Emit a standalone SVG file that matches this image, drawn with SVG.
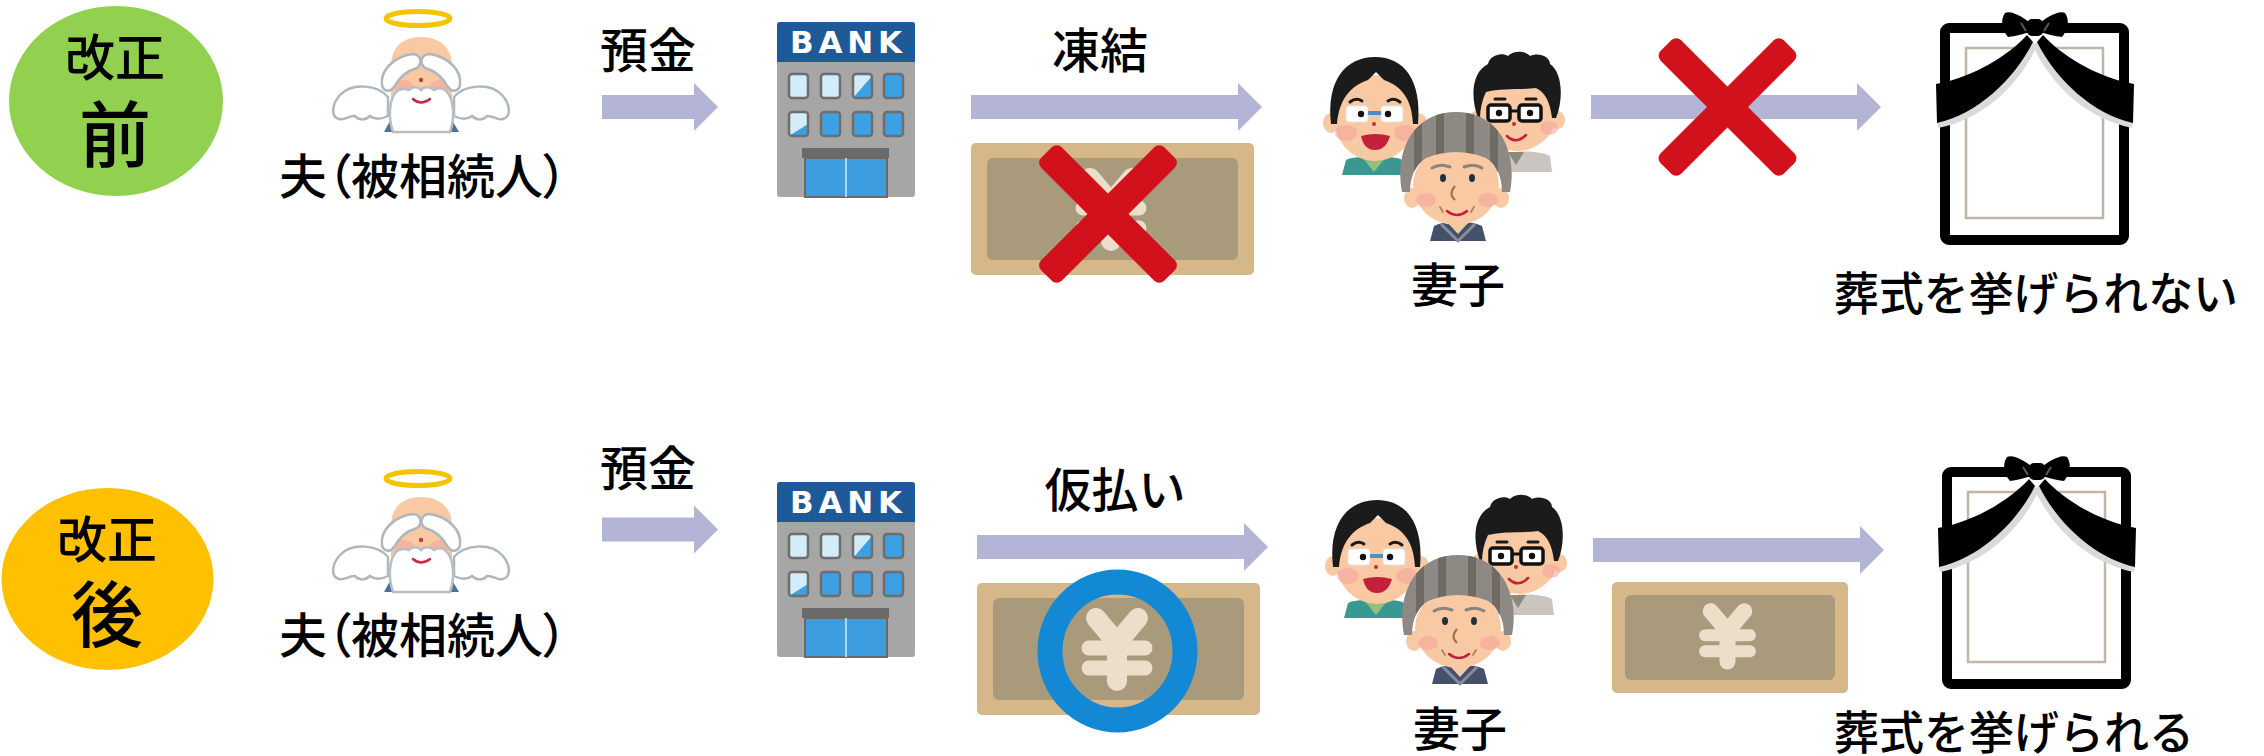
<svg xmlns="http://www.w3.org/2000/svg" width="2264" height="756" viewBox="0 0 2264 756">
<style>
  .t{font-family:"Noto Sans CJK JP","Noto Sans CJK SC",sans-serif;font-weight:500;fill:#000;}
  .lbl{font-size:48px;}
  .cap{font-size:48px;font-feature-settings:"palt";}
  .arrow{fill:#B4B4D6;}
  .skin{fill:#F9C9A3;}
  .blush{fill:#F4A09A;opacity:.55;}
  .hair{fill:#1B1B1B;}
  .cross{fill:#D1121C;}
  .win{fill:none;stroke:#6E6E6E;stroke-width:2.5;}
  .wl{fill:#D3ECFA;}
  .wb{fill:#3DA0E2;}
  .bank{font-family:"DejaVu Sans",sans-serif;font-weight:bold;font-size:31px;fill:#fff;}
</style>
<defs>
  <!-- angel (deceased husband) -->
  <path id="wingL" d="M388 97 C378 85 352 82 340 95 C331 105 331 117 339 119 C345 121 349 115 355 116 C359 121 366 120 370 116 C375 120 382 119 388 116 Z" fill="#fff" stroke="#AEB6BF" stroke-width="2.5"/>
  <path id="browL" d="M382 85 C380 70 394 57 412 54 C421 54 423 63 417 68 C406 71 399 78 394 87 C390 93 383 91 382 85 Z" fill="#fff" stroke="#AEB6BF" stroke-width="2.5"/>
  <g id="angel-art">
    <use href="#wingL"/>
    <use href="#wingL" transform="matrix(-1 0 0 1 842 0)"/>
    <polygon points="384,132 396,110 446,110 459,132" fill="#4D6F9E"/>
    <ellipse cx="389" cy="80" rx="6" ry="8" class="skin"/>
    <ellipse cx="454" cy="80" rx="6" ry="8" class="skin"/>
    <path d="M391 98 L391 66 C391 46 404 37 421 37 C438 37 452 46 452 66 L452 98 Z" class="skin"/>
    <ellipse cx="403" cy="86" rx="10" ry="6" class="blush"/>
    <ellipse cx="440" cy="86" rx="10" ry="6" class="blush"/>
    <path d="M393 132 C388 118 389 100 396 92 C400 87 406 89 409 90 C413 86 419 87 421 90 C424 86 431 87 434 90 C438 87 444 88 447 92 C454 100 455 118 450 132 Z" fill="#fff" stroke="#B8BEC4" stroke-width="2.5"/>
    <use href="#browL"/>
    <use href="#browL" transform="matrix(-1 0 0 1 842 0)"/>
    <circle cx="421" cy="80" r="2.2" fill="#C23A44"/>
    <path d="M413 99 Q421 106 430 99" fill="none" stroke="#C8284A" stroke-width="2.5" stroke-linecap="round"/>
    <ellipse cx="418" cy="18.5" rx="32" ry="7" fill="none" stroke="#F5C400" stroke-width="5"/>
  </g>

  <!-- bank building -->
  <g id="bank-art">
    <rect x="777" y="22" width="138" height="175" rx="3" fill="#A6A6A6"/>
    <path d="M777 62 V25 Q777 22 780 22 H912 Q915 22 915 25 V62 Z" fill="#1E5A98"/>
    <text x="846" y="53" class="bank" text-anchor="middle" textLength="112" lengthAdjust="spacing">BANK</text>
    <rect x="789" y="74" width="19" height="24" class="wl"/>
    <rect x="821" y="74" width="19" height="24" class="wl"/>
    <rect x="853" y="74" width="19" height="24" class="wl"/>
    <polygon points="872,76 872,98 853,98" class="wb"/>
    <rect x="884" y="74" width="19" height="24" class="wb"/>
    <rect x="789" y="112" width="19" height="24" class="wl"/>
    <polygon points="789,136 808,136 808,124" class="wb"/>
    <rect x="821" y="112" width="19" height="24" class="wb"/>
    <rect x="853" y="112" width="19" height="24" class="wb"/>
    <rect x="884" y="112" width="19" height="24" class="wb"/>
    <g class="win">
      <rect x="789" y="74" width="19" height="24" rx="3"/>
      <rect x="821" y="74" width="19" height="24" rx="3"/>
      <rect x="853" y="74" width="19" height="24" rx="3"/>
      <rect x="884" y="74" width="19" height="24" rx="3"/>
      <rect x="789" y="112" width="19" height="24" rx="3"/>
      <rect x="821" y="112" width="19" height="24" rx="3"/>
      <rect x="853" y="112" width="19" height="24" rx="3"/>
      <rect x="884" y="112" width="19" height="24" rx="3"/>
    </g>
    <rect x="805" y="158" width="82" height="39" fill="#3C9EDF" stroke="#6A6A6A" stroke-width="2"/>
    <line x1="846" y1="158" x2="846" y2="197" stroke="#A8D8F6" stroke-width="2"/>
    <rect x="802" y="148" width="87" height="10" fill="#6A6A6A"/>
  </g>

  <!-- yen mark -->
  <g id="yen" fill="none" stroke="#ECDFCA" stroke-linecap="round" stroke-linejoin="round">
    <path d="M-21 -31 L0 -6 L21 -31" stroke-width="20"/>
    <path d="M-28 -1 H28 M-28 19 H28" stroke-width="15"/>
    <path d="M0 -6 V32" stroke-width="20"/>
  </g>

  <!-- banknote -->
  <g id="bill-art">
    <rect x="971" y="143" width="283" height="132" rx="5" fill="#D5B789"/>
    <rect x="987" y="158" width="251" height="102" rx="6" fill="#A99A7B"/>
    <use href="#yen" transform="translate(1111 209)"/>
  </g>

  <!-- cross mark -->
  <g id="xmark" class="cross">
    <rect x="-87" y="-14.5" width="174" height="29" rx="7" transform="rotate(45)"/>
    <rect x="-87" y="-14.5" width="174" height="29" rx="7" transform="rotate(-45)"/>
  </g>

  <!-- family: son, son, widow -->
  <clipPath id="grannyHair">
    <path d="M1402 192 C1394 150 1414 112 1456 112 C1498 112 1518 150 1510 192 L1502 192 C1502 176 1496 164 1486 158 C1468 150 1444 150 1426 158 C1416 164 1410 176 1410 192 Z"/>
  </clipPath>
  <g id="family-art">
    <!-- left son -->
    <path d="M1342 175 L1346 160 C1355 155 1395 155 1402 160 L1404 175 Z" fill="#3A9893"/>
    <polygon points="1362,157 1374,172 1386,157" fill="#93BE7E"/>
    <ellipse cx="1331" cy="123" rx="8" ry="10" class="skin"/>
    <ellipse cx="1419" cy="123" rx="8" ry="10" class="skin"/>
    <ellipse cx="1375" cy="118" rx="41" ry="43" class="skin"/>
    <path d="M1331 124 C1326 80 1346 57 1375 57 C1404 57 1422 80 1418 124 L1413 124 C1412 100 1402 86 1384 80 L1376 72 L1368 80 C1350 86 1339 100 1337 124 Z" class="hair"/>
    <ellipse cx="1346" cy="133" rx="11" ry="8" class="blush"/>
    <ellipse cx="1405" cy="133" rx="11" ry="8" class="blush"/>
    <path d="M1350 102 Q1356 97 1362 101 M1388 101 Q1394 97 1400 102" fill="none" stroke="#1B1B1B" stroke-width="3" stroke-linecap="round"/>
    <rect x="1346" y="106" width="22" height="16" rx="3" fill="#fff" stroke="#E4E4E4"/>
    <rect x="1381" y="106" width="22" height="16" rx="3" fill="#fff" stroke="#E4E4E4"/>
    <rect x="1368" y="111" width="13" height="4" fill="#4A90C0"/>
    <circle cx="1361" cy="114" r="3.2" fill="#111"/>
    <circle cx="1388" cy="114" r="3.2" fill="#111"/>
    <circle cx="1374" cy="124" r="2" fill="#C0303A"/>
    <path d="M1361 136 Q1375 132 1390 136 Q1386 150 1375 150 Q1364 150 1361 136 Z" fill="#C4203C"/>
    <!-- right son -->
    <path d="M1492 172 L1496 156 C1510 150 1540 150 1550 156 L1552 172 Z" fill="#CCC5BF"/>
    <polygon points="1508,152 1516,165 1524,152" fill="#8C8A7C"/>
    <ellipse cx="1476" cy="120" rx="7" ry="9" class="skin"/>
    <ellipse cx="1558" cy="120" rx="7" ry="9" class="skin"/>
    <ellipse cx="1517" cy="112" rx="40" ry="39" class="skin"/>
    <path d="M1478 118 C1470 96 1472 72 1488 64 C1490 55 1502 52 1508 56 C1514 50 1526 51 1530 56 C1538 52 1550 56 1550 64 C1562 72 1564 98 1556 118 L1552 118 C1550 100 1544 92 1536 88 C1520 90 1500 88 1486 92 C1482 100 1480 110 1480 118 Z" class="hair"/>
    <ellipse cx="1487" cy="130" rx="9" ry="7" class="blush"/>
    <ellipse cx="1549" cy="128" rx="9" ry="7" class="blush"/>
    <path d="M1495 99 H1505 M1526 99 H1536" stroke="#1B1B1B" stroke-width="3" stroke-linecap="round"/>
    <rect x="1488" y="105" width="22" height="16" rx="3" fill="#fff" stroke="#111" stroke-width="3.5"/>
    <rect x="1519" y="105" width="22" height="16" rx="3" fill="#fff" stroke="#111" stroke-width="3.5"/>
    <line x1="1510" y1="111" x2="1519" y2="111" stroke="#111" stroke-width="3"/>
    <circle cx="1499" cy="113" r="3.2" fill="#111"/>
    <circle cx="1530" cy="113" r="3.2" fill="#111"/>
    <circle cx="1514" cy="124" r="2" fill="#C0303A"/>
    <path d="M1507 136 Q1516 145 1526 135" fill="none" stroke="#C4203C" stroke-width="2.5" stroke-linecap="round"/>
    <!-- widow -->
    <path d="M1430 241 L1434 226 C1445 220 1470 220 1482 226 L1486 241 Z" fill="#45506A"/>
    <polygon points="1447,222 1458,234 1469,222" fill="#F2C9A0"/>
    <polyline points="1441,224 1458,241 1475,224" fill="none" stroke="#8A8E9A" stroke-width="3"/>
    <ellipse cx="1412" cy="198" rx="8" ry="10" class="skin"/>
    <ellipse cx="1501" cy="198" rx="8" ry="10" class="skin"/>
    <ellipse cx="1456" cy="185" rx="43" ry="40" class="skin"/>
    <g clip-path="url(#grannyHair)">
      <rect x="1390" y="108" width="130" height="90" fill="#8E8984"/>
      <g fill="#6F6A64">
        <rect x="1414" y="108" width="8" height="90"/>
        <rect x="1436" y="108" width="8" height="90"/>
        <rect x="1466" y="108" width="8" height="90"/>
        <rect x="1490" y="108" width="8" height="90"/>
      </g>
    </g>
    <ellipse cx="1426" cy="200" rx="10" ry="7" class="blush"/>
    <ellipse cx="1488" cy="200" rx="10" ry="7" class="blush"/>
    <path d="M1432 168 Q1440 163 1450 167 M1464 167 Q1474 163 1482 168" fill="none" stroke="#8B847B" stroke-width="3" stroke-linecap="round"/>
    <ellipse cx="1443" cy="178" rx="3" ry="4" fill="#22303A"/>
    <ellipse cx="1472" cy="178" rx="3" ry="4" fill="#22303A"/>
    <path d="M1455 186 Q1448 194 1455 200" fill="none" stroke="#A0703F" stroke-width="2"/>
    <path d="M1440 207 L1443 212 M1474 207 L1471 212" stroke="#B08860" stroke-width="2" stroke-linecap="round"/>
    <path d="M1447 211 Q1457 219 1467 211" fill="none" stroke="#C4203C" stroke-width="2.5" stroke-linecap="round"/>
  </g>

  <!-- memorial portrait frame -->
  <path id="swagL" d="M2027 35 C2010 54 1975 77 1936 84 L1937 123 C1977 114 2014 80 2033 42 Z"/>
  <path id="swagShadeL" d="M1937 122 C1977 113 2014 80 2033 42 L2037 46 C2018 87 1982 119 1938 128 Z"/>
  <path id="loopL" d="M2033 25 C2024 18 2012 10 2005 13 C2000 20 2002 30 2008 37 C2017 36 2026 33 2033 31 Z"/>
  <g id="frame-art">
    <rect x="1945" y="28" width="179" height="212" rx="4" fill="#fff" stroke="#000" stroke-width="10"/>
    <rect x="1966" y="48" width="137" height="170" fill="none" stroke="#C2B5A8" stroke-width="2.5"/>
    <use href="#swagShadeL" fill="#DADADA"/>
    <use href="#swagShadeL" fill="#DADADA" transform="matrix(-1 0 0 1 4070 0)"/>
    <use href="#swagL" fill="#000"/>
    <use href="#swagL" fill="#000" transform="matrix(-1 0 0 1 4070 0)"/>
    <use href="#loopL" fill="#000"/>
    <use href="#loopL" fill="#000" transform="matrix(-1 0 0 1 4070 0)"/>
    <rect x="2027" y="19" width="16" height="17" rx="5" fill="#000"/>
    <path d="M2021 23 L2026 31 M2049 23 L2044 31" stroke="#5A5A5A" stroke-width="2"/>
  </g>
</defs>

<rect width="2264" height="756" fill="#fff"/>

<!-- arrows -->
<g id="connectors" class="arrow">
  <path d="M602 95 H694 V83 L718 107 L694 131 V119 H602 Z"/>
  <path d="M971 95 H1238 V83 L1262 107 L1238 131 V119 H971 Z"/>
  <path d="M1591 95 H1857 V83 L1881 107 L1857 131 V119 H1591 Z"/>
  <path d="M602 517.5 H694 V505.5 L718 529.5 L694 553.5 V541.5 H602 Z"/>
  <path d="M977 535 H1244 V523 L1268 547 L1244 571 V559 H977 Z"/>
  <path d="M1593 538 H1860 V526 L1884 550 L1860 574 V562 H1593 Z"/>
</g>

<!-- before the revision -->
<g id="badge-before">
  <ellipse cx="116" cy="101" rx="107" ry="95" fill="#92D050"/>
  <text x="115" y="76" class="t" font-size="50" text-anchor="middle">改正</text>
  <text x="115" y="161" class="t" font-size="72" text-anchor="middle">前</text>
</g>
<g id="husband-before">
  <use href="#angel-art"/>
  <text x="279" y="194" class="t cap">夫（被相続人）</text>
</g>
<g id="deposit-label-before">
  <text x="648" y="68" class="t lbl" text-anchor="middle">預金</text>
</g>
<g id="bank-before">
  <use href="#bank-art"/>
</g>
<g id="frozen-before">
  <text x="1100" y="68" class="t lbl" text-anchor="middle">凍結</text>
  <use href="#bill-art"/>
  <use href="#xmark" transform="translate(1108 214)"/>
</g>
<g id="family-before">
  <use href="#family-art"/>
  <text x="1458" y="302" class="t" font-size="47" text-anchor="middle">妻子</text>
</g>
<g id="blocked-before">
  <use href="#xmark" transform="translate(1727.5 107)"/>
</g>
<g id="funeral-before">
  <use href="#frame-art"/>
  <text x="1834" y="309.5" class="t" font-size="46" textLength="404" lengthAdjust="spacingAndGlyphs">葬式を挙げられない</text>
</g>

<!-- after the revision -->
<g id="badge-after">
  <ellipse cx="107.5" cy="579" rx="106" ry="91" fill="#FFC000"/>
  <text x="107" y="558" class="t" font-size="50" text-anchor="middle">改正</text>
  <text x="107" y="641" class="t" font-size="72" text-anchor="middle">後</text>
</g>
<g id="husband-after">
  <use href="#angel-art" transform="translate(0 460)"/>
  <text x="279" y="653" class="t cap">夫（被相続人）</text>
</g>
<g id="deposit-label-after">
  <text x="648" y="486" class="t lbl" text-anchor="middle">預金</text>
</g>
<g id="bank-after">
  <use href="#bank-art" transform="translate(0 460)"/>
</g>
<g id="provisional-after">
  <text x="1115" y="506.5" class="t" font-size="47" text-anchor="middle">仮払い</text>
  <use href="#bill-art" transform="translate(6 440)"/>
  <ellipse cx="1117.5" cy="651" rx="67.5" ry="69" fill="none" stroke="#1388D4" stroke-width="25"/>
</g>
<g id="family-after">
  <use href="#family-art" transform="translate(2 443)"/>
  <text x="1460" y="746" class="t" font-size="47" text-anchor="middle">妻子</text>
</g>
<g id="payment-after">
  <rect x="1612" y="582" width="236" height="111" rx="5" fill="#D5B789"/>
  <rect x="1625" y="595" width="210" height="85" rx="6" fill="#A99A7B"/>
  <use href="#yen" transform="translate(1727.5 636) scale(0.8)"/>
</g>
<g id="funeral-after">
  <use href="#frame-art" transform="translate(2 444)"/>
  <text x="1834" y="749" class="t" font-size="46" textLength="360" lengthAdjust="spacingAndGlyphs">葬式を挙げられる</text>
</g>
</svg>
